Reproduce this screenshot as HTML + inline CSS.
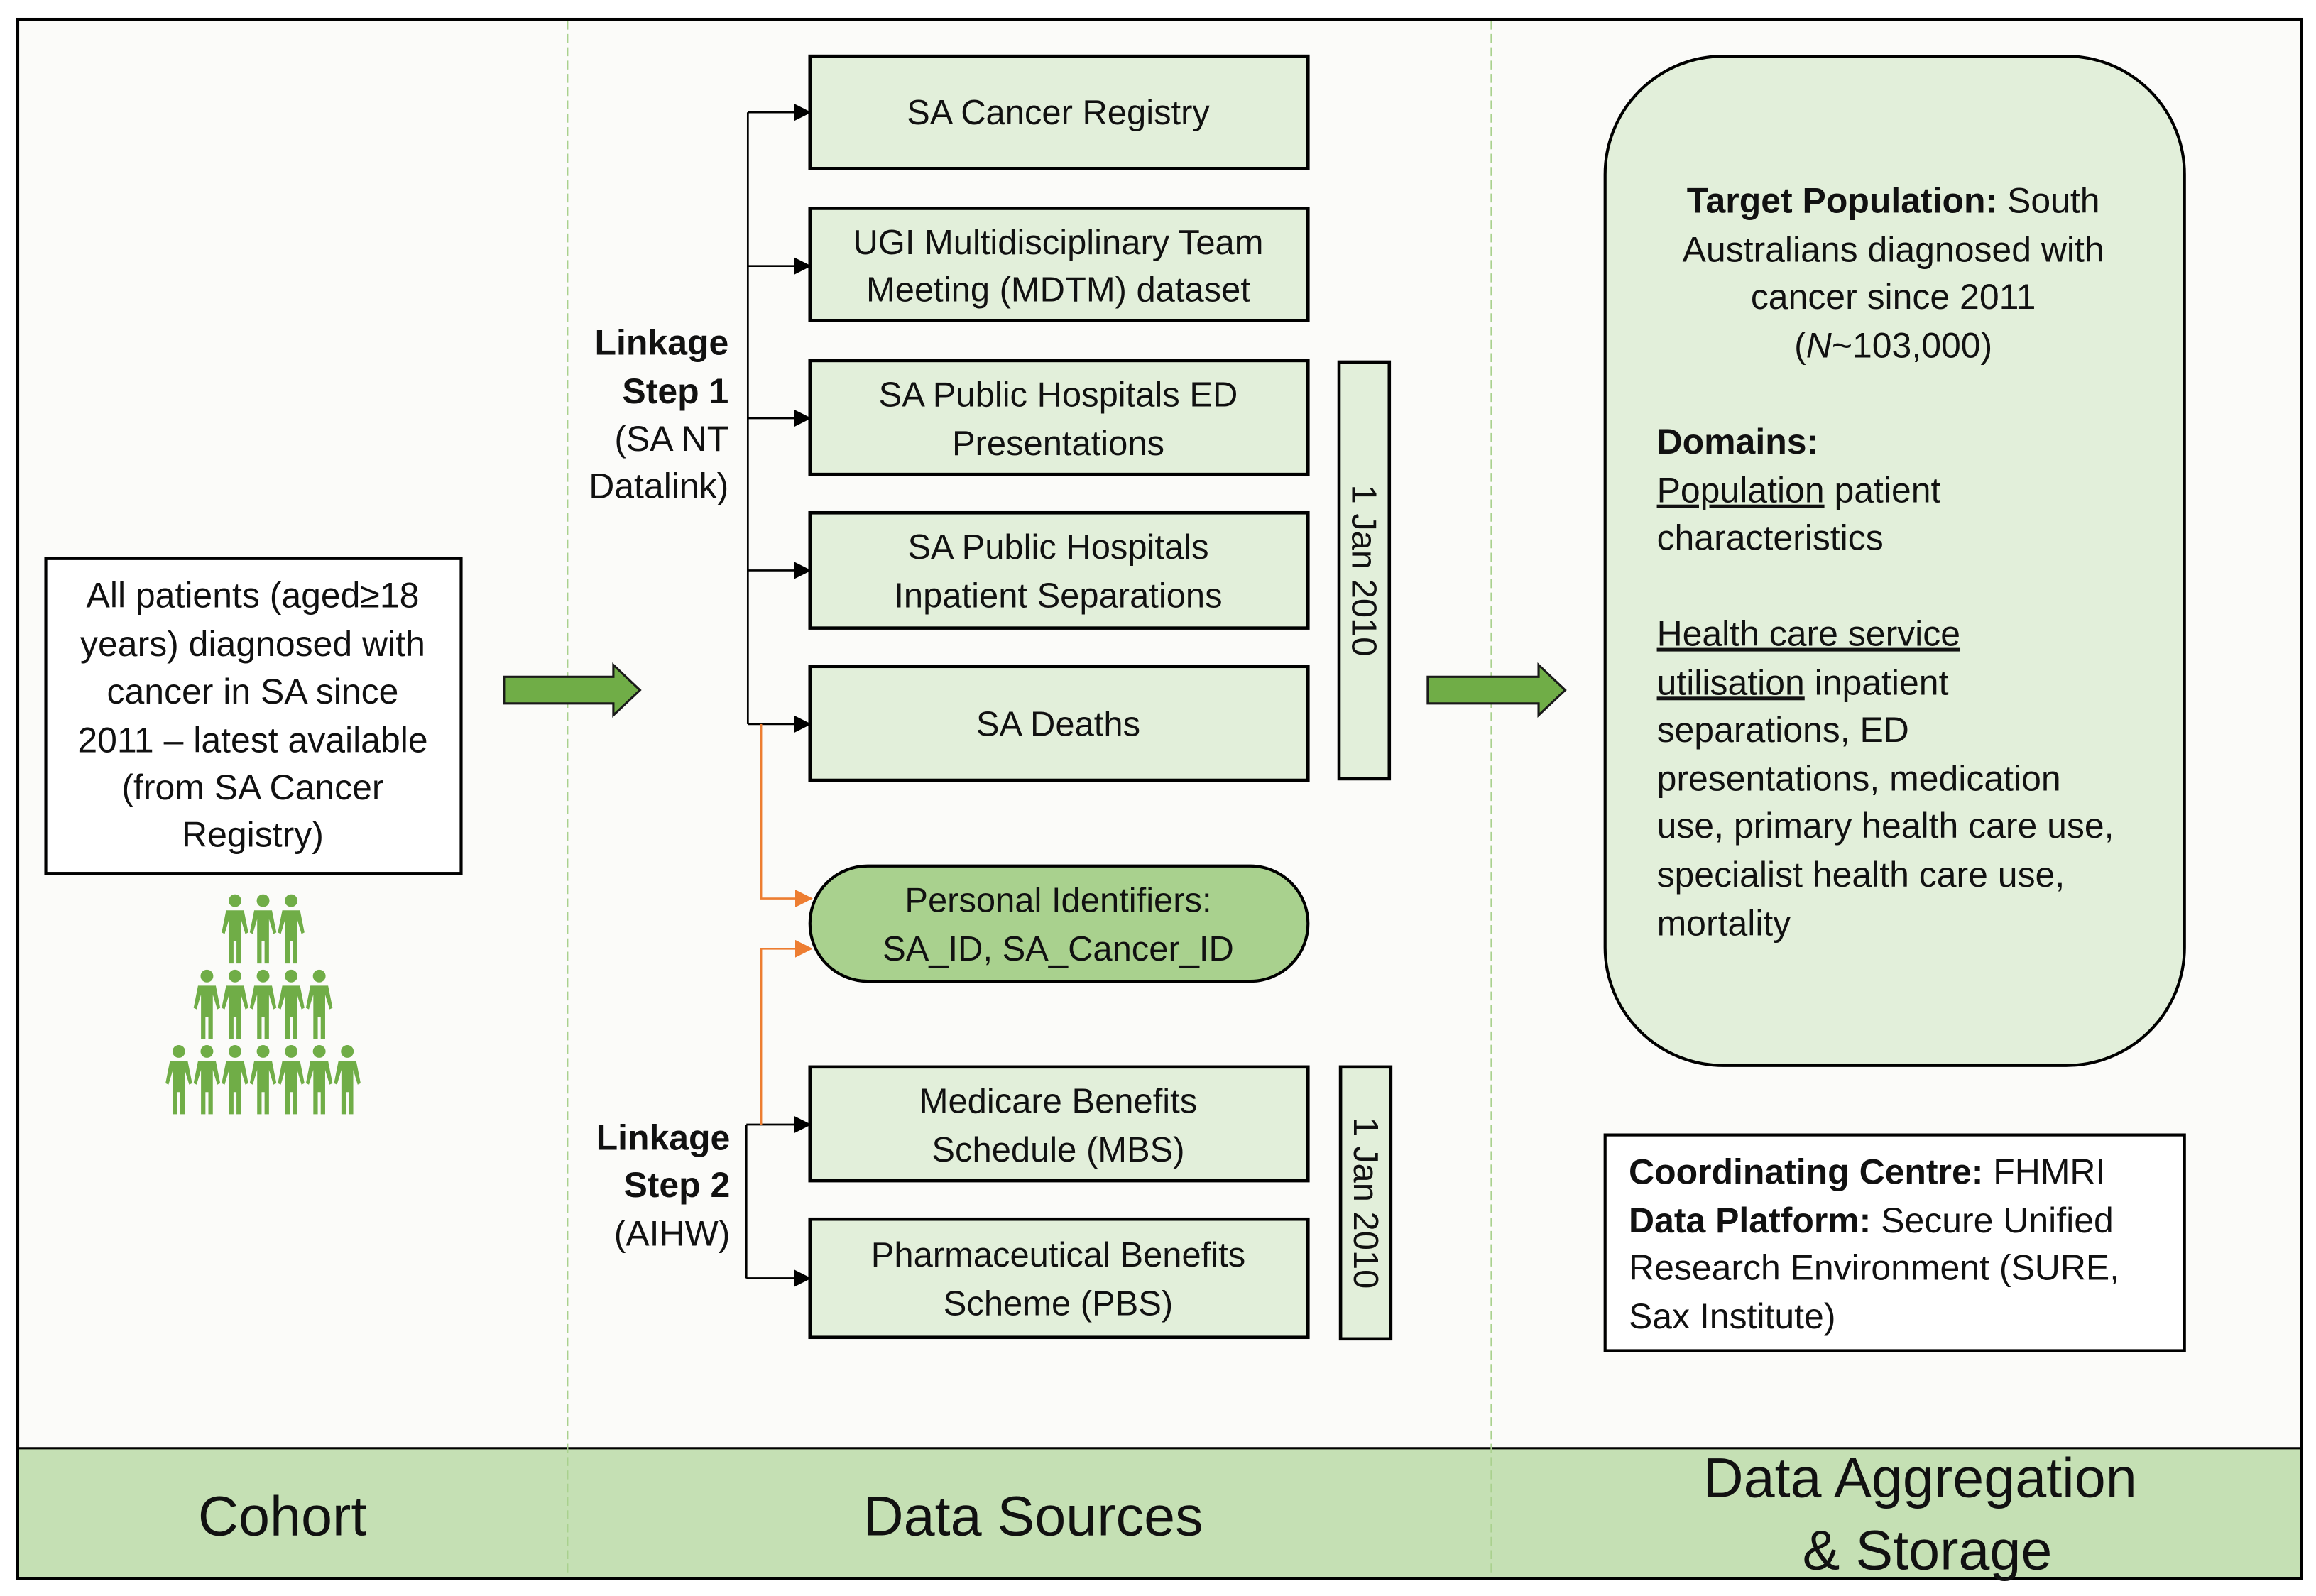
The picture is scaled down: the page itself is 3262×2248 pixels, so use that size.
<!DOCTYPE html>
<html><head><meta charset="utf-8"><style>
html,body{margin:0;padding:0;background:#fff;}
svg{display:block;}
text{font-family:"Liberation Sans",sans-serif;fill:#111;}
</style></head><body>
<svg width="3262" height="2248" viewBox="0 0 1567 1080" preserveAspectRatio="none" xmlns="http://www.w3.org/2000/svg">
<defs>
<marker id="ab" markerWidth="12" markerHeight="12" refX="11" refY="6" orient="auto" markerUnits="userSpaceOnUse"><path d="M0,0 L12,6 L0,12 z" fill="#000"/></marker>
<marker id="ao" markerWidth="12" markerHeight="12" refX="11" refY="6" orient="auto" markerUnits="userSpaceOnUse"><path d="M0,0 L12,6 L0,12 z" fill="#ed7d31"/></marker>
<g id="p">
<circle cx="0" cy="4.5" r="4.3" fill="#70ad47"/>
<path d="M-6,11 L6,11 L9,26 L7,27 L4,17 L4,47 L1,47 L1,32 L-1,32 L-1,47 L-4,47 L-4,17 L-7,27 L-9,26 Z" fill="#70ad47"/>
</g>
</defs>
<rect x="0" y="0" width="1567" height="1080" fill="#fff"/>
<rect x="12" y="13" width="1545" height="1055" fill="#fbfbf9" stroke="#000" stroke-width="2"/>
<rect x="13" y="980" width="1543" height="87" fill="#c5e0b4"/>
<line x1="12" y1="980" x2="1557" y2="980" stroke="#000" stroke-width="1.5"/>
<line x1="384" y1="14" x2="384" y2="1067" stroke="#a9d18e" stroke-width="1" stroke-dasharray="6,3"/>
<line x1="1009" y1="14" x2="1009" y2="1067" stroke="#a9d18e" stroke-width="1" stroke-dasharray="6,3"/>

<rect x="31" y="378" width="281" height="213" fill="#fff" stroke="#000" stroke-width="2"/>
<g font-size="24" text-anchor="middle">
<text x="171" y="411">All patients (aged≥18</text>
<text x="171" y="444">years) diagnosed with</text>
<text x="171" y="476">cancer in SA since</text>
<text x="171" y="509">2011 – latest available</text>
<text x="171" y="541">(from SA Cancer</text>
<text x="171" y="573">Registry)</text>
</g>
<use href="#p" x="159" y="605"/><use href="#p" x="178" y="605"/><use href="#p" x="197" y="605"/>
<use href="#p" x="140" y="656"/><use href="#p" x="159" y="656"/><use href="#p" x="178" y="656"/><use href="#p" x="197" y="656"/><use href="#p" x="216" y="656"/>
<use href="#p" x="121" y="707"/><use href="#p" x="140" y="707"/><use href="#p" x="159" y="707"/><use href="#p" x="178" y="707"/><use href="#p" x="197" y="707"/><use href="#p" x="216" y="707"/><use href="#p" x="235" y="707"/>

<path d="M341,458 L415,458 L415,450 L433,467 L415,484 L415,476 L341,476 Z" fill="#70ad47" stroke="#1a1a1a" stroke-width="1.5"/>
<path d="M966,458 L1041,458 L1041,450 L1059,467 L1041,484 L1041,476 L966,476 Z" fill="#70ad47" stroke="#1a1a1a" stroke-width="1.5"/>

<g font-size="24" text-anchor="end">
<text x="493" y="240" font-weight="bold">Linkage</text>
<text x="493" y="273" font-weight="bold">Step 1</text>
<text x="493" y="305">(SA NT</text>
<text x="493" y="337">Datalink)</text>
<text x="494" y="778" font-weight="bold">Linkage</text>
<text x="494" y="810" font-weight="bold">Step 2</text>
<text x="494" y="843">(AIHW)</text>
</g>

<g stroke="#000" stroke-width="1.3" fill="none">
<line x1="506" y1="76" x2="506" y2="490"/>
<line x1="506" y1="76" x2="548" y2="76" marker-end="url(#ab)"/>
<line x1="506" y1="180" x2="548" y2="180" marker-end="url(#ab)"/>
<line x1="506" y1="283" x2="548" y2="283" marker-end="url(#ab)"/>
<line x1="506" y1="386" x2="548" y2="386" marker-end="url(#ab)"/>
<line x1="506" y1="490" x2="548" y2="490" marker-end="url(#ab)"/>
<line x1="505" y1="761" x2="505" y2="865"/>
<line x1="505" y1="761" x2="548" y2="761" marker-end="url(#ab)"/>
<line x1="505" y1="865" x2="548" y2="865" marker-end="url(#ab)"/>
</g>
<g stroke="#ed7d31" stroke-width="1.3" fill="none">
<polyline points="515,490 515,608 549,608" marker-end="url(#ao)"/>
<polyline points="515,761 515,642 549,642" marker-end="url(#ao)"/>
</g>

<g fill="#e2efda" stroke="#000" stroke-width="2.2">
<rect x="548" y="38" width="337" height="76"/>
<rect x="548" y="141" width="337" height="76"/>
<rect x="548" y="244" width="337" height="77"/>
<rect x="548" y="347" width="337" height="78"/>
<rect x="548" y="451" width="337" height="77"/>
<rect x="548" y="722" width="337" height="77"/>
<rect x="548" y="825" width="337" height="80"/>
<rect x="906" y="245" width="34" height="282"/>
<rect x="907" y="722" width="34" height="184"/>
</g>
<rect x="548" y="586" width="337" height="78" rx="39" fill="#a9d18e" stroke="#000" stroke-width="2"/>
<g font-size="23.5" text-anchor="middle">
<text x="716" y="84">SA Cancer Registry</text>
<text x="716" y="172">UGI Multidisciplinary Team</text>
<text x="716" y="204">Meeting (MDTM) dataset</text>
<text x="716" y="275">SA Public Hospitals ED</text>
<text x="716" y="308">Presentations</text>
<text x="716" y="378">SA Public Hospitals</text>
<text x="716" y="411">Inpatient Separations</text>
<text x="716" y="498">SA Deaths</text>
<text x="716" y="617">Personal Identifiers:</text>
<text x="716" y="650">SA_ID, SA_Cancer_ID</text>
<text x="716" y="753">Medicare Benefits</text>
<text x="716" y="786">Schedule (MBS)</text>
<text x="716" y="857">Pharmaceutical Benefits</text>
<text x="716" y="890">Scheme (PBS)</text>
<text transform="translate(915,386) rotate(90)" x="0" y="0">1 Jan 2010</text>
<text transform="translate(916,814) rotate(90)" x="0" y="0">1 Jan 2010</text>
</g>

<rect x="1086" y="38" width="392" height="683" rx="80" fill="#e2efda" stroke="#000" stroke-width="2"/>
<g font-size="24" text-anchor="middle">
<text x="1281" y="144"><tspan font-weight="bold">Target Population:</tspan> South</text>
<text x="1281" y="177">Australians diagnosed with</text>
<text x="1281" y="209">cancer since 2011</text>
<text x="1281" y="242">(<tspan font-style="italic">N</tspan>~103,000)</text>
</g>
<g font-size="24">
<text x="1121" y="307" font-weight="bold">Domains:</text>
<text x="1121" y="340"><tspan text-decoration="underline">Population</tspan> patient</text>
<text x="1121" y="372">characteristics</text>
<text x="1121" y="437"><tspan text-decoration="underline">Health care service</tspan></text>
<text x="1121" y="470"><tspan text-decoration="underline">utilisation</tspan> inpatient</text>
<text x="1121" y="502">separations, ED</text>
<text x="1121" y="535">presentations, medication</text>
<text x="1121" y="567">use, primary health care use,</text>
<text x="1121" y="600">specialist health care use,</text>
<text x="1121" y="633">mortality</text>
</g>
<rect x="1086" y="768" width="392" height="146" fill="#fff" stroke="#000" stroke-width="2"/>
<g font-size="24">
<text x="1102" y="801"><tspan font-weight="bold">Coordinating Centre:</tspan> FHMRI</text>
<text x="1102" y="834"><tspan font-weight="bold">Data Platform:</tspan> Secure Unified</text>
<text x="1102" y="866">Research Environment (SURE,</text>
<text x="1102" y="899">Sax Institute)</text>
</g>

<g font-size="38" text-anchor="middle">
<text x="191" y="1039">Cohort</text>
<text x="699" y="1039">Data Sources</text>
<text x="1299" y="1013">Data Aggregation</text>
<text x="1304" y="1062">&amp; Storage</text>
</g>
</svg>
</body></html>
